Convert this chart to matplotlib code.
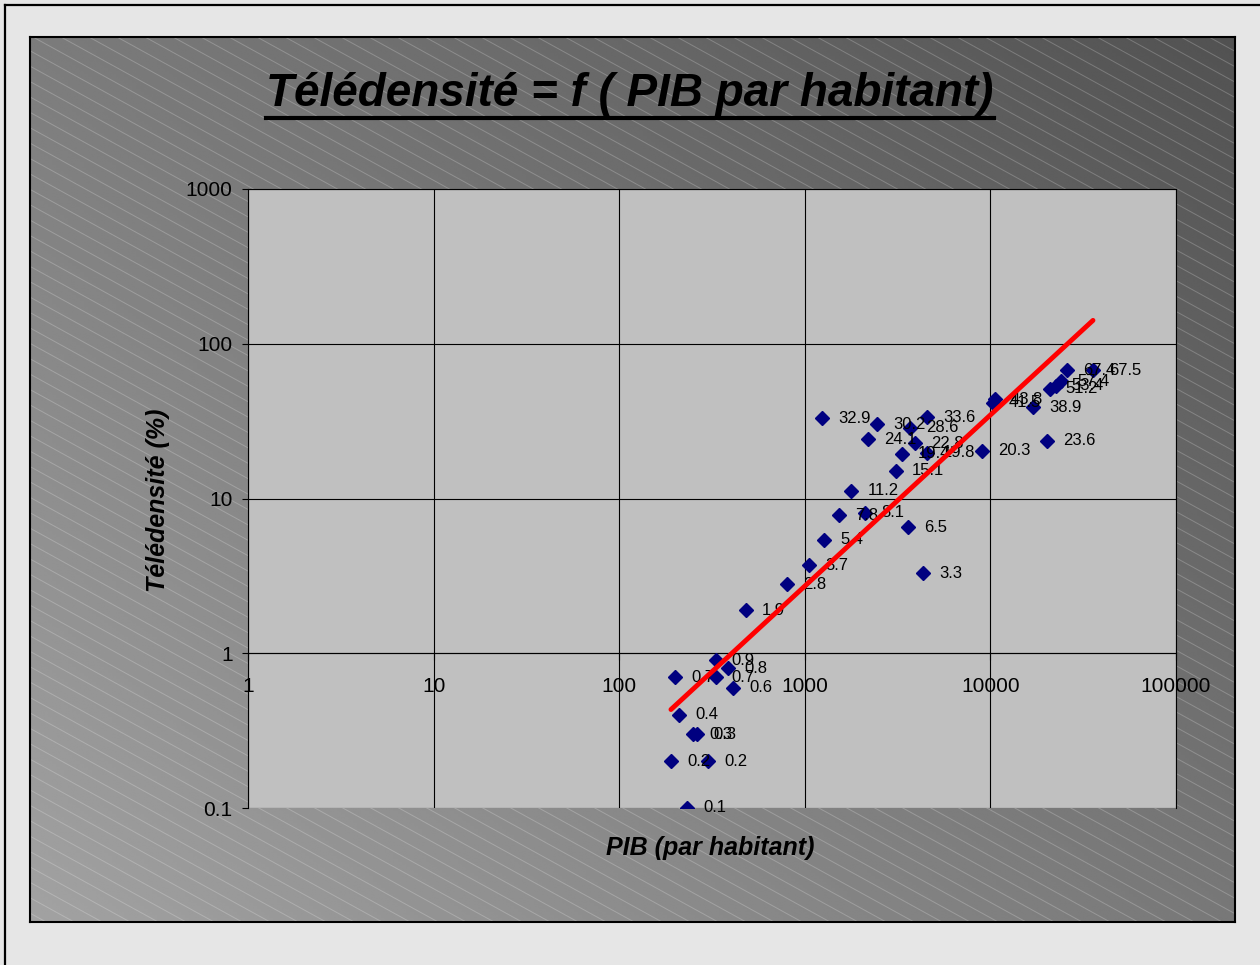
import numpy as np
import matplotlib
matplotlib.use('Agg')
import matplotlib.pyplot as plt
from matplotlib.lines import Line2D
from matplotlib.ticker import FixedLocator, FixedFormatter, NullLocator

plt.rcParams['font.family'] = ['Liberation Sans', 'DejaVu Sans']

# ---- data (PIB par habitant, télédensité %) ----
pib = [200, 331, 386, 331, 410, 210, 250, 263, 190, 301, 232,
       482, 802, 1054, 1269, 1528, 2110, 3597, 4335, 1780, 3100,
       3340, 4550, 3925, 3690, 4550, 2450, 2190, 1238, 9010,
       10300, 10600, 16980, 20200, 20900, 22500, 24000, 25870, 35700]
tele = [0.7, 0.9, 0.8, 0.7, 0.6, 0.4, 0.3, 0.3, 0.2, 0.2, 0.1,
        1.9, 2.8, 3.7, 5.4, 7.8, 8.1, 6.5, 3.3, 11.2, 15.1,
        19.4, 19.8, 22.8, 28.6, 33.6, 30.2, 24.1, 32.9, 20.3,
        41.5, 43.8, 38.9, 23.6, 51.2, 53.4, 57.4, 67.4, 67.5]

x_ticks = [1, 10, 100, 1000, 10000, 100000]
x_tick_labels = ['1', '10', '100', '1000', '10000', '100000']
y_ticks = [0.1, 1, 10, 100, 1000]
y_tick_labels = ['0.1', '1', '10', '100', '1000']

title = 'Télédensité = f ( PIB par habitant)'
xlabel = 'PIB (par habitant)'
ylabel = 'Télédensité (%)'

W, H = 1260, 965
fig = plt.figure(figsize=(W / 100, H / 100), dpi=100, facecolor='#e6e6e6')


def fx(px):
    return px / W


def fy(py):
    return 1 - py / H


# outer border (left / top visible)
fig.add_artist(Line2D([fx(5), fx(5)], [0, fy(5)], color='black', lw=1.6))
fig.add_artist(Line2D([fx(5), 1], [fy(5), fy(5)], color='black', lw=1.6))

# chart area with gradient + diagonal hatch
cx0, cy0, cx1, cy1 = 30, 37, 1235, 922
w, h = cx1 - cx0, cy1 - cy0
bg = fig.add_axes([fx(cx0), fy(cy1), w / W, h / H])
GX, GY = np.meshgrid(np.linspace(0, 1, 300), np.linspace(0, 1, 300))
V = (124 - 42 * GX + 38 * GY) / 255
bg.imshow(V, cmap='gray', vmin=0, vmax=1, extent=[0, w, h, 0],
          aspect='auto', interpolation='bilinear')
slope = 0.55
for x0 in np.arange(3 - 28 * int(h / slope / 28 + 2), w, 28):
    bg.plot([x0, x0 + h / slope], [0, h], color='white', alpha=0.22, lw=0.7)
bg.set_xlim(0, w)
bg.set_ylim(h, 0)
bg.set_xticks([])
bg.set_yticks([])
for s in bg.spines.values():
    s.set_color('black')
    s.set_linewidth(1.5)

# plot area
px0, py0, px1, py1 = 248, 189, 1176, 808
ax = fig.add_axes([fx(px0), fy(py1), (px1 - px0) / W, (py1 - py0) / H])
ax.set_facecolor('#c0c0c0')
ax.set_xscale('log')
ax.set_yscale('log')
ax.set_xlim(1, 1e5)
ax.set_ylim(0.1, 1000)
ax.xaxis.set_major_locator(FixedLocator(x_ticks))
ax.xaxis.set_major_formatter(FixedFormatter(x_tick_labels))
ax.yaxis.set_major_locator(FixedLocator(y_ticks))
ax.yaxis.set_major_formatter(FixedFormatter(y_tick_labels))
ax.xaxis.set_minor_locator(NullLocator())
ax.yaxis.set_minor_locator(NullLocator())
ax.grid(True, which='major', color='black', lw=0.8)
ax.set_axisbelow(True)
ax.spines['bottom'].set_position(('data', 1))
for s in ax.spines.values():
    s.set_color('black')
    s.set_linewidth(0.8)
ax.tick_params(axis='x', direction='out', length=5, pad=12, labelsize=15, width=0.8)
ax.tick_params(axis='y', direction='out', length=4, pad=7, labelsize=15, width=0.8)

ax.plot(pib, tele, ls='none', marker='D', ms=7.5, color='#000080', zorder=3)
for xv, yv in zip(pib, tele):
    ax.annotate(f'{yv:g}', (xv, yv), xytext=(11.5, 0), textcoords='offset points',
                va='center', ha='left', fontsize=12, color='black', zorder=4)

# power trendline fitted on the data
b, a = np.polyfit(np.log10(pib), np.log10(tele), 1)
xs = np.array([min(pib), max(pib)])
ax.plot(xs, 10 ** (a + b * np.log10(xs)), color='red', lw=3.5, zorder=5,
        solid_capstyle='round')

# texts
fig.text(fx(710), fy(848), xlabel, ha='center', va='center', fontsize=18,
         fontweight='bold', fontstyle='italic')
fig.text(fx(158), fy(500), ylabel, ha='center', va='center', fontsize=18,
         fontweight='bold', fontstyle='italic', rotation=90)
t = fig.text(fx(630), fy(94), title, ha='center', va='center', fontsize=33,
             fontweight='bold', fontstyle='italic')
fig.canvas.draw()
bb = t.get_window_extent()
fig.add_artist(Line2D([bb.x0 / W, bb.x1 / W], [fy(118), fy(118)],
                      color='black', lw=3))

fig.savefig('out.png', dpi=100, facecolor=fig.get_facecolor())
